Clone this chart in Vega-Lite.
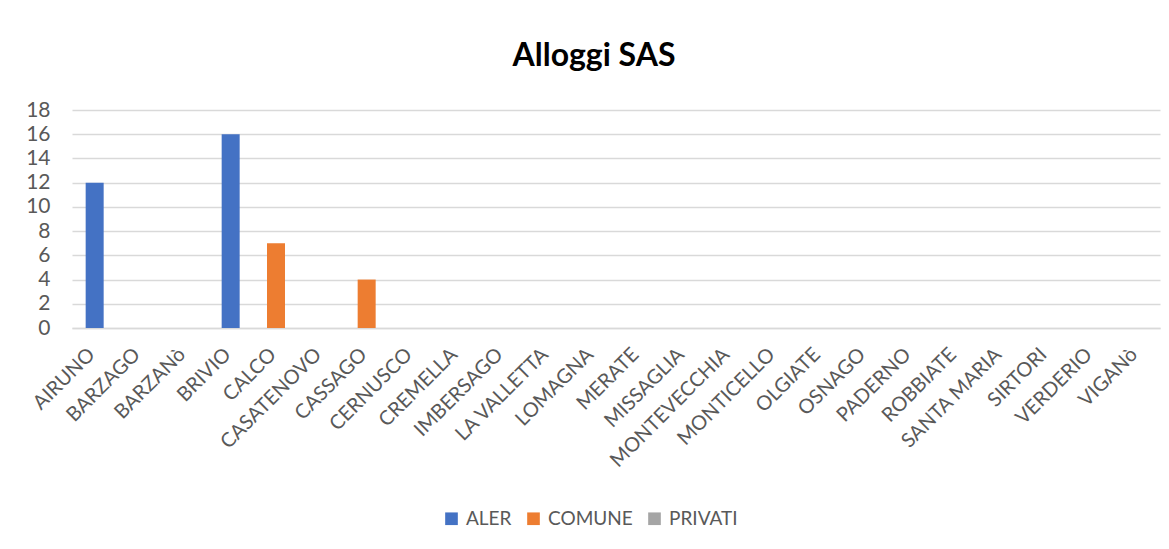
{
  "$schema": "https://vega.github.io/schema/vega-lite/v6.json",
  "width": 1088,
  "height": 218,
  "autosize": {"type": "none"},
  "padding": {"left": 72, "top": 110, "right": 9, "bottom": 221},
  "background": "white",
  "title": {"text": "Alloggi SAS", "fontSize": 32, "font": "Lato", "fontWeight": "bold", "color": "#000000", "anchor": "middle", "offset": 26, "dx": -22},
  "config": {"view": {"stroke": null}, "font": "Lato"},
  "data": {"values": [
    {"comune": "AIRUNO", "tipo": "ALER", "alloggi": 12},
    {"comune": "BARZAGO", "tipo": "ALER", "alloggi": 0},
    {"comune": "BARZANò", "tipo": "ALER", "alloggi": 0},
    {"comune": "BRIVIO", "tipo": "ALER", "alloggi": 16},
    {"comune": "CALCO", "tipo": "COMUNE", "alloggi": 7},
    {"comune": "CASATENOVO", "tipo": "ALER", "alloggi": 0},
    {"comune": "CASSAGO", "tipo": "COMUNE", "alloggi": 4},
    {"comune": "CERNUSCO", "tipo": "ALER", "alloggi": 0},
    {"comune": "CREMELLA", "tipo": "ALER", "alloggi": 0},
    {"comune": "IMBERSAGO", "tipo": "ALER", "alloggi": 0},
    {"comune": "LA VALLETTA", "tipo": "ALER", "alloggi": 0},
    {"comune": "LOMAGNA", "tipo": "ALER", "alloggi": 0},
    {"comune": "MERATE", "tipo": "ALER", "alloggi": 0},
    {"comune": "MISSAGLIA", "tipo": "ALER", "alloggi": 0},
    {"comune": "MONTEVECCHIA", "tipo": "ALER", "alloggi": 0},
    {"comune": "MONTICELLO", "tipo": "ALER", "alloggi": 0},
    {"comune": "OLGIATE", "tipo": "ALER", "alloggi": 0},
    {"comune": "OSNAGO", "tipo": "ALER", "alloggi": 0},
    {"comune": "PADERNO", "tipo": "ALER", "alloggi": 0},
    {"comune": "ROBBIATE", "tipo": "ALER", "alloggi": 0},
    {"comune": "SANTA MARIA", "tipo": "ALER", "alloggi": 0},
    {"comune": "SIRTORI", "tipo": "ALER", "alloggi": 0},
    {"comune": "VERDERIO", "tipo": "ALER", "alloggi": 0},
    {"comune": "VIGANò", "tipo": "ALER", "alloggi": 0},
    {"comune": "AIRUNO", "tipo": "PRIVATI", "alloggi": 0},
    {"comune": "AIRUNO", "tipo": "COMUNE", "alloggi": 0}
  ]},
  "mark": {"type": "bar", "width": 18},
  "encoding": {
    "x": {"field": "comune", "type": "nominal", "sort": null, "scale": {"paddingInner": 0, "paddingOuter": 0},
      "axis": {"title": null, "labelAngle": -45, "labelFontSize": 20, "labelColor": "#595959", "ticks": false, "domainColor": "#D9D9D9", "domainWidth": 1.5, "labelPadding": 16, "labelOffset": -10}},
    "y": {"field": "alloggi", "type": "quantitative", "stack": null, "scale": {"domain": [0, 18]},
      "axis": {"title": null, "values": [0,2,4,6,8,10,12,14,16,18], "labelFontSize": 21, "labelColor": "#595959", "domain": false, "ticks": false, "gridColor": "#D9D9D9", "gridWidth": 1.5, "labelPadding": 22}},
    "color": {"field": "tipo", "type": "nominal",
      "scale": {"domain": ["ALER", "COMUNE", "PRIVATI"], "range": ["#4472C4", "#ED7D31", "#A5A5A5"]},
      "legend": {"title": null, "orient": "none", "direction": "horizontal", "legendX": 370, "legendY": 399, "symbolType": "square", "symbolSize": 160, "symbolStrokeWidth": 0, "labelFontSize": 19, "labelColor": "#595959", "columnPadding": 12, "symbolOffset": 0, "labelOffset": 5}}
  }
}
